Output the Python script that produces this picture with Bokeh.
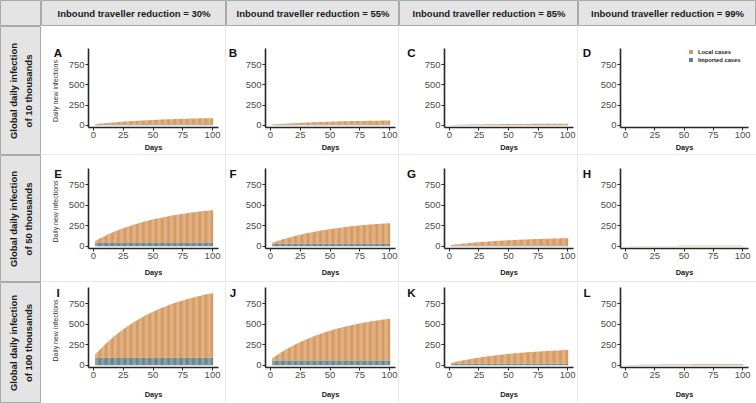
import math
from bokeh.plotting import figure
from bokeh.layouts import row, column
from bokeh.models import Range1d, Legend, LegendItem, Spacer
from bokeh.core.properties import value
from bokeh.embed import file_html
from bokeh.resources import INLINE

FONT = "Liberation Sans"

# ---------------- data ----------------
DAYS = list(range(2, 101))
COL_TITLES = ["Inbound traveller reduction = 30%", "Inbound traveller reduction = 55%",
              "Inbound traveller reduction = 85%", "Inbound traveller reduction = 99%"]
ROW_TITLES = ["Global daily infection\nof 10 thousands", "Global daily infection\nof 50 thousands",
              "Global daily infection\nof 100 thousands"]
LETTERS = ["A", "B", "C", "D", "E", "F", "G", "H", "I", "J", "K", "L"]
Y_TITLE = "Daily new infections"
X_TITLE = "Days"
X_TICKS = [0, 25, 50, 75, 100]
Y_TICKS = [0, 250, 500, 750]
SERIES_NAMES = ["Local cases", "Imported cases"]

# imported cases per day (flat over the 100 days), panels A..L
IMPORTED = [9, 6, 2, 0.1, 45, 29, 10, 0.6, 90, 58, 19, 1.3]

# local cases per day (days 2..100), panels A..L
LOCAL_A = [5, 6, 8, 9, 11, 12, 14, 15, 17, 18,
           19, 21, 22, 23, 25, 26, 27, 28, 29, 31,
           32, 33, 34, 35, 36, 37, 38, 39, 40, 41,
           42, 43, 44, 45, 46, 46, 47, 48, 49, 50,
           51, 51, 52, 53, 54, 54, 55, 56, 56, 57,
           58, 58, 59, 60, 60, 61, 61, 62, 63, 63,
           64, 64, 65, 65, 66, 66, 67, 67, 68, 68,
           69, 69, 70, 70, 71, 71, 72, 72, 72, 73,
           73, 74, 74, 74, 75, 75, 75, 76, 76, 76,
           77, 77, 77, 78, 78, 78, 79, 79, 79]
LOCAL_B = [3, 4, 5, 6, 7, 8, 9, 10, 11, 12,
           13, 14, 15, 16, 16, 17, 18, 19, 20, 20,
           21, 22, 23, 23, 24, 25, 25, 26, 27, 27,
           28, 29, 29, 30, 30, 31, 32, 32, 33, 33,
           34, 34, 35, 35, 36, 36, 37, 37, 38, 38,
           39, 39, 40, 40, 40, 41, 41, 42, 42, 42,
           43, 43, 43, 44, 44, 45, 45, 45, 46, 46,
           46, 46, 47, 47, 47, 48, 48, 48, 48, 49,
           49, 49, 49, 50, 50, 50, 50, 51, 51, 51,
           51, 52, 52, 52, 52, 52, 53, 53, 53]
LOCAL_C = [1.1, 1.4, 1.7, 2.1, 2.4, 2.7, 3.0, 3.4, 3.7, 4.0,
           4.3, 4.6, 4.8, 5.1, 5.4, 5.7, 5.9, 6.2, 6.4, 6.7,
           7.0, 7.2, 7.4, 7.7, 7.9, 8.1, 8.4, 8.6, 8.8, 9.0,
           9.2, 9.4, 9.6, 9.8, 10.0, 10.2, 10.4, 10.6, 10.8, 10.9,
           11.1, 11.3, 11.4, 11.6, 11.8, 11.9, 12.1, 12.2, 12.4, 12.5,
           12.7, 12.8, 13.0, 13.1, 13.2, 13.4, 13.5, 13.6, 13.8, 13.9,
           14.0, 14.1, 14.3, 14.4, 14.5, 14.6, 14.7, 14.8, 14.9, 15.0,
           15.1, 15.2, 15.3, 15.4, 15.5, 15.6, 15.7, 15.8, 15.9, 16.0,
           16.1, 16.2, 16.2, 16.3, 16.4, 16.5, 16.6, 16.6, 16.7, 16.8,
           16.9, 16.9, 17.0, 17.1, 17.1, 17.2, 17.3, 17.3, 17.4]
LOCAL_D = [0.1, 0.1, 0.1, 0.1, 0.2, 0.2, 0.2, 0.2, 0.3, 0.3,
           0.3, 0.3, 0.3, 0.3, 0.4, 0.4, 0.4, 0.4, 0.4, 0.5,
           0.5, 0.5, 0.5, 0.5, 0.5, 0.6, 0.6, 0.6, 0.6, 0.6,
           0.6, 0.6, 0.7, 0.7, 0.7, 0.7, 0.7, 0.7, 0.7, 0.7,
           0.8, 0.8, 0.8, 0.8, 0.8, 0.8, 0.8, 0.8, 0.8, 0.9,
           0.9, 0.9, 0.9, 0.9, 0.9, 0.9, 0.9, 0.9, 0.9, 0.9,
           1.0, 1.0, 1.0, 1.0, 1.0, 1.0, 1.0, 1.0, 1.0, 1.0,
           1.0, 1.0, 1.0, 1.1, 1.1, 1.1, 1.1, 1.1, 1.1, 1.1,
           1.1, 1.1, 1.1, 1.1, 1.1, 1.1, 1.1, 1.1, 1.1, 1.1,
           1.2, 1.2, 1.2, 1.2, 1.2, 1.2, 1.2, 1.2, 1.2]
LOCAL_E = [24, 32, 40, 47, 55, 62, 69, 77, 84, 90,
           97, 104, 110, 117, 123, 129, 135, 141, 147, 153,
           158, 164, 169, 175, 180, 185, 190, 195, 200, 205,
           209, 214, 219, 223, 228, 232, 236, 240, 245, 249,
           253, 256, 260, 264, 268, 271, 275, 278, 282, 285,
           289, 292, 295, 298, 301, 304, 307, 310, 313, 316,
           319, 322, 324, 327, 330, 332, 335, 337, 340, 342,
           344, 347, 349, 351, 353, 355, 358, 360, 362, 364,
           366, 368, 369, 371, 373, 375, 377, 378, 380, 382,
           384, 385, 387, 388, 390, 391, 393, 394, 396]
LOCAL_F = [15, 20, 25, 30, 35, 40, 44, 49, 53, 58,
           62, 66, 70, 75, 78, 82, 86, 90, 94, 98,
           101, 105, 108, 112, 115, 118, 122, 125, 128, 131,
           134, 137, 140, 143, 146, 148, 151, 154, 156, 159,
           162, 164, 166, 169, 171, 173, 176, 178, 180, 182,
           185, 187, 189, 191, 193, 195, 196, 198, 200, 202,
           204, 206, 207, 209, 211, 212, 214, 216, 217, 219,
           220, 222, 223, 225, 226, 227, 229, 230, 231, 233,
           234, 235, 236, 237, 239, 240, 241, 242, 243, 244,
           245, 246, 247, 248, 249, 250, 251, 252, 253]
LOCAL_G = [5, 7, 9, 10, 12, 14, 15, 17, 19, 20,
           22, 23, 24, 26, 27, 29, 30, 31, 33, 34,
           35, 36, 38, 39, 40, 41, 42, 43, 44, 45,
           46, 48, 49, 50, 51, 51, 52, 53, 54, 55,
           56, 57, 58, 59, 59, 60, 61, 62, 62, 63,
           64, 65, 65, 66, 67, 67, 68, 69, 69, 70,
           71, 71, 72, 73, 73, 74, 74, 75, 75, 76,
           76, 77, 77, 78, 78, 79, 79, 80, 80, 81,
           81, 82, 82, 82, 83, 83, 84, 84, 84, 85,
           85, 85, 86, 86, 86, 87, 87, 87, 88]
LOCAL_H = [0.3, 0.4, 0.5, 0.6, 0.7, 0.8, 0.9, 1.0, 1.1, 1.2,
           1.3, 1.4, 1.5, 1.6, 1.6, 1.7, 1.8, 1.9, 2.0, 2.0,
           2.1, 2.2, 2.3, 2.3, 2.4, 2.5, 2.5, 2.6, 2.7, 2.7,
           2.8, 2.9, 2.9, 3.0, 3.0, 3.1, 3.2, 3.2, 3.3, 3.3,
           3.4, 3.4, 3.5, 3.5, 3.6, 3.6, 3.7, 3.7, 3.8, 3.8,
           3.9, 3.9, 4.0, 4.0, 4.0, 4.1, 4.1, 4.2, 4.2, 4.2,
           4.3, 4.3, 4.3, 4.4, 4.4, 4.4, 4.5, 4.5, 4.5, 4.6,
           4.6, 4.6, 4.7, 4.7, 4.7, 4.8, 4.8, 4.8, 4.8, 4.9,
           4.9, 4.9, 4.9, 5.0, 5.0, 5.0, 5.0, 5.1, 5.1, 5.1,
           5.1, 5.2, 5.2, 5.2, 5.2, 5.2, 5.3, 5.3, 5.3]
LOCAL_I = [48, 64, 79, 94, 109, 124, 138, 153, 167, 180,
           194, 207, 220, 233, 245, 257, 270, 281, 293, 305,
           316, 327, 338, 349, 359, 369, 380, 390, 399, 409,
           418, 428, 437, 446, 455, 463, 472, 480, 489, 497,
           505, 512, 520, 528, 535, 542, 549, 556, 563, 570,
           577, 583, 590, 596, 602, 608, 614, 620, 626, 632,
           637, 643, 648, 654, 659, 664, 669, 674, 679, 683,
           688, 693, 697, 702, 706, 710, 715, 719, 723, 727,
           731, 735, 738, 742, 746, 749, 753, 756, 760, 763,
           767, 770, 773, 776, 779, 782, 785, 788, 791]
LOCAL_J = [31, 41, 51, 61, 70, 80, 89, 99, 108, 116,
           125, 134, 142, 150, 158, 166, 174, 181, 189, 197,
           204, 211, 218, 225, 232, 238, 245, 252, 257, 264,
           270, 276, 282, 288, 293, 299, 304, 310, 315, 321,
           326, 330, 335, 341, 345, 350, 354, 359, 363, 368,
           372, 376, 381, 384, 388, 392, 396, 400, 404, 408,
           411, 415, 418, 422, 425, 428, 432, 435, 438, 441,
           444, 447, 450, 453, 455, 458, 461, 464, 466, 469,
           471, 474, 476, 479, 481, 483, 486, 488, 490, 492,
           495, 497, 499, 501, 502, 504, 506, 508, 510]
LOCAL_K = [10, 14, 17, 20, 23, 26, 29, 32, 35, 38,
           41, 44, 46, 49, 52, 54, 57, 59, 62, 64,
           67, 69, 71, 74, 76, 78, 80, 82, 84, 86,
           88, 90, 92, 94, 96, 98, 100, 101, 103, 105,
           107, 108, 110, 111, 113, 114, 116, 117, 119, 120,
           122, 123, 124, 126, 127, 128, 130, 131, 132, 133,
           134, 136, 137, 138, 139, 140, 141, 142, 143, 144,
           145, 146, 147, 148, 149, 150, 151, 152, 153, 153,
           154, 155, 156, 157, 157, 158, 159, 160, 160, 161,
           162, 162, 163, 164, 164, 165, 166, 166, 167]
LOCAL_L = [0.7, 0.9, 1.1, 1.4, 1.6, 1.8, 2.0, 2.2, 2.4, 2.6,
           2.8, 3.0, 3.2, 3.4, 3.6, 3.7, 3.9, 4.1, 4.2, 4.4,
           4.6, 4.7, 4.9, 5.1, 5.2, 5.4, 5.5, 5.7, 5.8, 5.9,
           6.1, 6.2, 6.3, 6.5, 6.6, 6.7, 6.8, 7.0, 7.1, 7.2,
           7.3, 7.4, 7.5, 7.7, 7.8, 7.9, 8.0, 8.1, 8.2, 8.3,
           8.4, 8.5, 8.6, 8.6, 8.7, 8.8, 8.9, 9.0, 9.1, 9.2,
           9.2, 9.3, 9.4, 9.5, 9.6, 9.6, 9.7, 9.8, 9.8, 9.9,
           10.0, 10.0, 10.1, 10.2, 10.2, 10.3, 10.4, 10.4, 10.5, 10.5,
           10.6, 10.7, 10.7, 10.8, 10.8, 10.9, 10.9, 11.0, 11.0, 11.1,
           11.1, 11.2, 11.2, 11.3, 11.3, 11.3, 11.4, 11.4, 11.5]

LOCAL = [LOCAL_A, LOCAL_B, LOCAL_C, LOCAL_D, LOCAL_E, LOCAL_F,
         LOCAL_G, LOCAL_H, LOCAL_I, LOCAL_J, LOCAL_K, LOCAL_L]

# ---------------- style / layout ----------------
C_LOCAL = "#d6995f"
C_IMPORTED = "#66828a"
STRIP_FILL = "#e4e4e4"
STRIP_LINE = "#a9a9a9"
SEP = "#e8e8e8"
AXIS_C = "#262626"

X_RANGE = (-4.2, 105)
Y_RANGE = (-28, 950)
FRAME_H = 80
PX_PER_UNIT = FRAME_H / (Y_RANGE[1] - Y_RANGE[0])

# per column: tag-figure width, panel left border, frame width, right border
COLS = [(24, 22, 131, 7), (16, 22, 131, 3), (22, 21, 131, 4), (19, 21, 130, 8)]
TAG_X = [16.5, 6.5, 12, 8.5]       # letter centre inside the tag figure (px)
YTITLE_X = 14                      # y title centre inside the first tag figure (px)
TAG_DROP = 4.5                     # letter centre below the frame top (px)
YTITLE_DROP = 3                    # y title centre below the frame centre (px)
# per row: top border, bottom border, x-label standoff
ROWS = [(22, 26, 2), (13, 33, 6), (5, 36, 9)]
COL_W = [185, 173, 179, 178]
ROW_H = [129, 127, 121]
STRIP_W = 41
HEADER_H = 26
LEGEND_LOC = (68, 64)


def make_panel(i):
    r, c = divmod(i, 4)
    _, left, fw, right = COLS[c]
    top, bottom, standoff = ROWS[r]
    p = figure(width=left + fw + right, height=top + FRAME_H + bottom,
               x_range=Range1d(*X_RANGE), y_range=Range1d(*Y_RANGE),
               output_backend="svg", toolbar_location=None,
               min_border_left=left, min_border_right=right,
               min_border_top=top, min_border_bottom=bottom)
    imp = [IMPORTED[i] for _ in DAYS]
    tops = [IMPORTED[i] + v for v in LOCAL[i]]
    r_imp = p.vbar(x=DAYS, bottom=0, top=imp, width=1.0,
                   fill_color=C_IMPORTED, line_color=None)
    r_loc = p.vbar(x=DAYS, bottom=imp, top=tops, width=1.0,
                   fill_color=C_LOCAL, line_color=None)
    p.xgrid.visible = False
    p.ygrid.visible = False
    p.outline_line_color = None
    p.background_fill_color = "white"
    p.border_fill_color = "white"
    p.xaxis.ticker = X_TICKS
    p.yaxis.ticker = Y_TICKS
    for ax in (p.xaxis[0], p.yaxis[0]):
        ax.axis_line_color = AXIS_C
        ax.axis_line_width = 1.6
        ax.major_tick_line_color = AXIS_C
        ax.major_tick_line_width = 1
        ax.major_tick_out = 3
        ax.major_tick_in = 0
        ax.minor_tick_line_color = None
        ax.major_label_text_font = FONT
        ax.major_label_text_font_size = "9.5px"
        ax.major_label_text_color = "#4d4d4d"
        ax.major_label_standoff = 1
    p.xaxis.axis_label = X_TITLE
    p.xaxis.axis_label_text_font = FONT
    p.xaxis.axis_label_text_font_size = "7.4px"
    p.xaxis.axis_label_text_font_style = "bold"
    p.xaxis.axis_label_text_color = "#1a1a1a"
    p.xaxis.axis_label_standoff = standoff
    if i == 3:
        leg = Legend(items=[LegendItem(label=SERIES_NAMES[0], renderers=[r_loc]),
                            LegendItem(label=SERIES_NAMES[1], renderers=[r_imp])],
                     location=LEGEND_LOC)
        leg.background_fill_alpha = 0
        leg.border_line_color = None
        leg.padding = 0
        leg.margin = 0
        leg.spacing = 1
        leg.glyph_width = 5
        leg.glyph_height = 5
        leg.label_height = 7
        leg.label_standoff = 5
        leg.label_text_font = FONT
        leg.label_text_font_size = "5.8px"
        leg.label_text_font_style = "bold"
        leg.label_text_color = "#222222"
        p.add_layout(leg)
    return p


def make_tag(i):
    """Narrow white figure left of a panel, sharing the panel's vertical scale;
    it holds the panel letter (and, in the first column, the y title)."""
    r, c = divmod(i, 4)
    w = COLS[c][0]
    top, bottom, _ = ROWS[r]
    t = figure(width=w, height=top + FRAME_H + bottom,
               x_range=Range1d(0, w), y_range=Range1d(*Y_RANGE),
               output_backend="svg", toolbar_location=None,
               min_border_left=0, min_border_right=0,
               min_border_top=top, min_border_bottom=bottom,
               x_axis_type=None, y_axis_type=None)
    t.outline_line_color = None
    t.background_fill_color = "white"
    t.border_fill_color = "white"
    t.text(x=[TAG_X[c]], y=[Y_RANGE[1] - TAG_DROP / PX_PER_UNIT], text=[LETTERS[i]],
           text_align="center", text_baseline="middle",
           text_font=value(FONT), text_font_size="11.6px",
           text_font_style="bold", text_color="#111111")
    if c == 0:
        t.text(x=[YTITLE_X],
               y=[(Y_RANGE[0] + Y_RANGE[1]) / 2 - YTITLE_DROP / PX_PER_UNIT],
               text=[Y_TITLE], angle=math.pi / 2,
               text_align="center", text_baseline="middle",
               text_font=value(FONT), text_font_size="7px",
               text_color="#333333")
    return t


def make_strip(w, h, text=None, angle=0.0):
    s = figure(width=w, height=h, x_range=Range1d(0, 1), y_range=Range1d(0, 1),
               output_backend="svg", toolbar_location=None, min_border=0,
               x_axis_type=None, y_axis_type=None)
    s.background_fill_color = STRIP_FILL
    s.border_fill_color = STRIP_FILL
    s.outline_line_color = STRIP_LINE
    s.outline_line_width = 1
    if text:
        s.text(x=[0.5], y=[0.5], text=[text], angle=angle,
               text_align="center", text_baseline="middle",
               text_font=value(FONT), text_font_size="9.5px",
               text_font_style="bold", text_color="#1a1a1a",
               text_line_height=1.35)
    return s


header = row(make_strip(STRIP_W, HEADER_H),
             *[make_strip(w, HEADER_H, t) for w, t in zip(COL_W, COL_TITLES)])
left_col = column(*[make_strip(STRIP_W, h, t, math.pi / 2) for h, t in zip(ROW_H, ROW_TITLES)])

panel_rows = []
for r in range(3):
    fig_h = ROWS[r][0] + FRAME_H + ROWS[r][1]
    kids = []
    for c in range(4):
        i = r * 4 + c
        kids.append(make_tag(i))
        kids.append(make_panel(i))
        if c < 3:
            kids.append(Spacer(width=1, height=fig_h, styles={"background-color": SEP}))
    panel_rows.append(row(*kids))
    if r < 2:
        panel_rows.append(Spacer(width=sum(COL_W), height=1, styles={"background-color": SEP}))

body = row(left_col, column(*panel_rows))
layout = column(header, body)

open("out.html", "w").write(file_html(layout, INLINE))
